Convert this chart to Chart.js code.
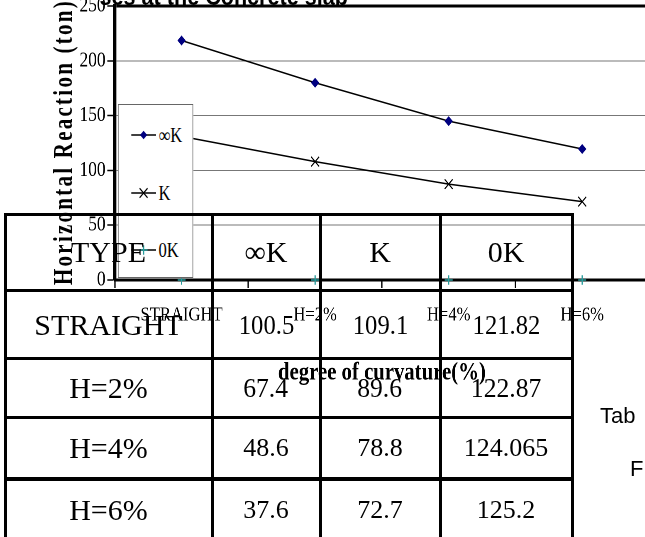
<!DOCTYPE html>
<html>
<head>
<meta charset="utf-8">
<script src="https://cdn.jsdelivr.net/npm/chart.js@4/dist/chart.umd.min.js"></script>
<style>
html,body{margin:0;padding:0;width:645px;height:537px;overflow:hidden;background:#fff;}
body{position:relative;}
#wrap{position:absolute;left:0;top:-10px;width:790px;height:400px;transform:scaleX(0.83);transform-origin:0 0;}
#wrap canvas{position:absolute;left:0;top:0;}
#ctitle{position:absolute;left:120px;top:-7px;font:bold 26px 'Liberation Sans';line-height:26px;white-space:nowrap;color:#000;}
#ytitle{position:absolute;left:62.5px;top:141.5px;width:420px;height:28px;margin-left:-210px;margin-top:-14px;text-align:center;
  font:bold 28px 'Liberation Serif';line-height:28px;letter-spacing:3px;white-space:nowrap;color:#000;
  transform:rotate(-90deg) scaleX(0.75);transform-origin:50% 50%;}
#legend{position:absolute;left:142px;top:114px;width:91px;height:174px;background:#fff;border:1px solid #666;box-sizing:border-box;}
.litem{position:absolute;left:0;height:24px;width:90px;}
.litem svg{position:absolute;left:15px;top:5px;}
.litem span{position:absolute;left:48px;top:0;font:20px 'Liberation Serif';line-height:24px;color:#000;white-space:nowrap;}
#table{position:absolute;left:0;top:0;width:645px;height:537px;}
.cell{position:absolute;box-sizing:border-box;border:3px solid #000;display:flex;align-items:center;justify-content:center;font-family:'Liberation Serif';color:#000;white-space:nowrap;}
.cell span{display:inline-block;}
.side{position:absolute;font:22px 'Liberation Sans';line-height:22px;color:#000;white-space:nowrap;}
</style>
</head>
<body>
<div id="wrap">
  <canvas id="c" width="790" height="400"></canvas>
  <div id="ctitle">ses at the Concrete slab</div>
  <div id="legend"></div>
</div>
<div id="ytitle">Horizontal Reaction (ton)</div>
<div id="table"></div>
<div class="side" style="left:600px;top:405px;">Tab</div>
<div class="side" style="left:630px;top:458px;">F</div>
<script>
// ---- chart data ----
const categories = ['STRAIGHT', 'H=2%', 'H=4%', 'H=6%'];
const seriesNames = ['\u221EK', 'K', '0K'];
const infK = [218.5, 180, 145, 119.5];
const kVals = [131, 108, 87.5, 71.5];
const zeroK = [0, 0, 0, 0];
const yMin = 0, yMax = 250, yStep = 50;

// ---- table data ----
const tableHeader = ['TYPE', '\u221EK', 'K', '0K'];
const tableRowLabels = ['STRAIGHT', 'H=2%', 'H=4%', 'H=6%'];
const tableInfK = ['100.5', '67.4', '48.6', '37.6'];
const tableK = ['109.1', '89.6', '78.8', '72.7'];
const table0K = ['121.82', '122.87', '124.065', '125.2'];

const serif = 'Liberation Serif';
const teal = '#2a9d9d';

const chart = new Chart(document.getElementById('c'), {
  type: 'line',
  data: {
    labels: categories,
    datasets: [
      {label: seriesNames[0], data: infK, borderColor: '#000', borderWidth: 1.5, tension: 0, clip: false,
       pointStyle: 'rectRot', pointRadius: 4.3, pointBackgroundColor: '#000080', pointBorderColor: '#000080', pointBorderWidth: 1},
      {label: seriesNames[1], data: kVals, borderColor: '#000', borderWidth: 1.5, tension: 0, clip: false,
       pointStyle: 'crossRot', pointRadius: 6.8, pointBorderColor: '#000', pointBorderWidth: 1.3},
      {label: seriesNames[2], data: zeroK, borderColor: '#000', borderWidth: 1.5, tension: 0, clip: false,
       pointStyle: 'cross', pointRadius: 4.8, pointBorderColor: teal, pointBorderWidth: 1.5}
    ]
  },
  options: {
    responsive: false,
    maintainAspectRatio: false,
    animation: false,
    devicePixelRatio: 2,
    layout: {padding: {top: 16, right: 4.3, left: 0, bottom: 0}},
    plugins: {legend: {display: false}, tooltip: {enabled: false}},
    scales: {
      x: {
        type: 'category',
        offset: true,
        grid: {offset: true, drawOnChartArea: false, drawTicks: true, tickLength: 8, tickColor: '#000', tickWidth: 1.6},
        border: {display: true, color: '#000', width: 3},
        ticks: {font: {family: serif, size: 20}, color: '#000', padding: 15, maxRotation: 0, autoSkip: false},
        title: {display: true, text: 'degree of curvature(%)', color: '#000',
                font: {family: serif, size: 25, weight: 'bold'}, padding: {top: 16, bottom: 2}}
      },
      y: {
        min: yMin, max: yMax,
        ticks: {stepSize: yStep, font: {family: serif, size: 21}, color: '#000', padding: 2},
        grid: {
          color: c => (c.tick && c.tick.value === yMax) ? '#000' : '#777',
          lineWidth: c => (c.tick && c.tick.value === yMax) ? 3 : 1,
          tickColor: '#000', tickLength: 9, tickWidth: 1.5
        },
        border: {display: true, color: '#000', width: 4.2},
        title: {display: false},
        afterFit: s => { s.width = 138.3; }
      }
    }
  }
});

// ---- legend (HTML, boxed, inside the plot) ----
const legend = document.getElementById('legend');
const legendY = [18, 75.7, 133];
function markerSvg(i) {
  let m = '';
  if (i === 0) m = '<polygon points="15,2.7 19.3,7 15,11.3 10.7,7" fill="#000080"/>';
  else if (i === 1) m = '<path d="M10.2,2.2 L19.8,11.8 M19.8,2.2 L10.2,11.8" stroke="#000" stroke-width="1.3" fill="none"/>';
  else m = '<path d="M15,2.2 L15,11.8 M10.2,7 L19.8,7" stroke="' + teal + '" stroke-width="1.5" fill="none"/>';
  return '<svg width="30" height="14" viewBox="0 0 30 14"><line x1="0" y1="7" x2="30" y2="7" stroke="#000" stroke-width="1.5"/>' + m + '</svg>';
}
seriesNames.forEach((name, i) => {
  const d = document.createElement('div');
  d.className = 'litem';
  d.style.top = legendY[i] + 'px';
  d.innerHTML = markerSvg(i) + '<span>' + name + '</span>';
  legend.appendChild(d);
});

// ---- table overlay ----
const colEdges = [5, 212, 320, 440, 572];
const rowEdges = [214, 290.7, 358.5, 417.7, 479, 541];
const tbl = document.getElementById('table');
function addCell(r, c, text, size, squeeze) {
  const d = document.createElement('div');
  d.className = 'cell';
  d.style.left = (colEdges[c] - 1.5) + 'px';
  d.style.top = (rowEdges[r] - 1.5) + 'px';
  d.style.width = (colEdges[c + 1] - colEdges[c] + 3) + 'px';
  d.style.height = (rowEdges[r + 1] - rowEdges[r] + 3) + 'px';
  d.style.fontSize = size + 'px';
  const s = document.createElement('span');
  s.textContent = text;
  if (squeeze) s.style.transform = 'scaleX(' + squeeze + ')';
  d.appendChild(s);
  tbl.appendChild(d);
}
tableHeader.forEach((t, c) => addCell(0, c, t, 30));
tableRowLabels.forEach((t, r) => {
  const size = r === 0 ? 28 : (r === 1 ? 27 : 26);
  const sq = r === 0 ? 0.88 : (r === 1 ? 0.95 : 0);
  addCell(r + 1, 0, t, 30);
  addCell(r + 1, 1, tableInfK[r], size, sq);
  addCell(r + 1, 2, tableK[r], size, sq);
  addCell(r + 1, 3, table0K[r], size, sq);
});
</script>
</body>
</html>
